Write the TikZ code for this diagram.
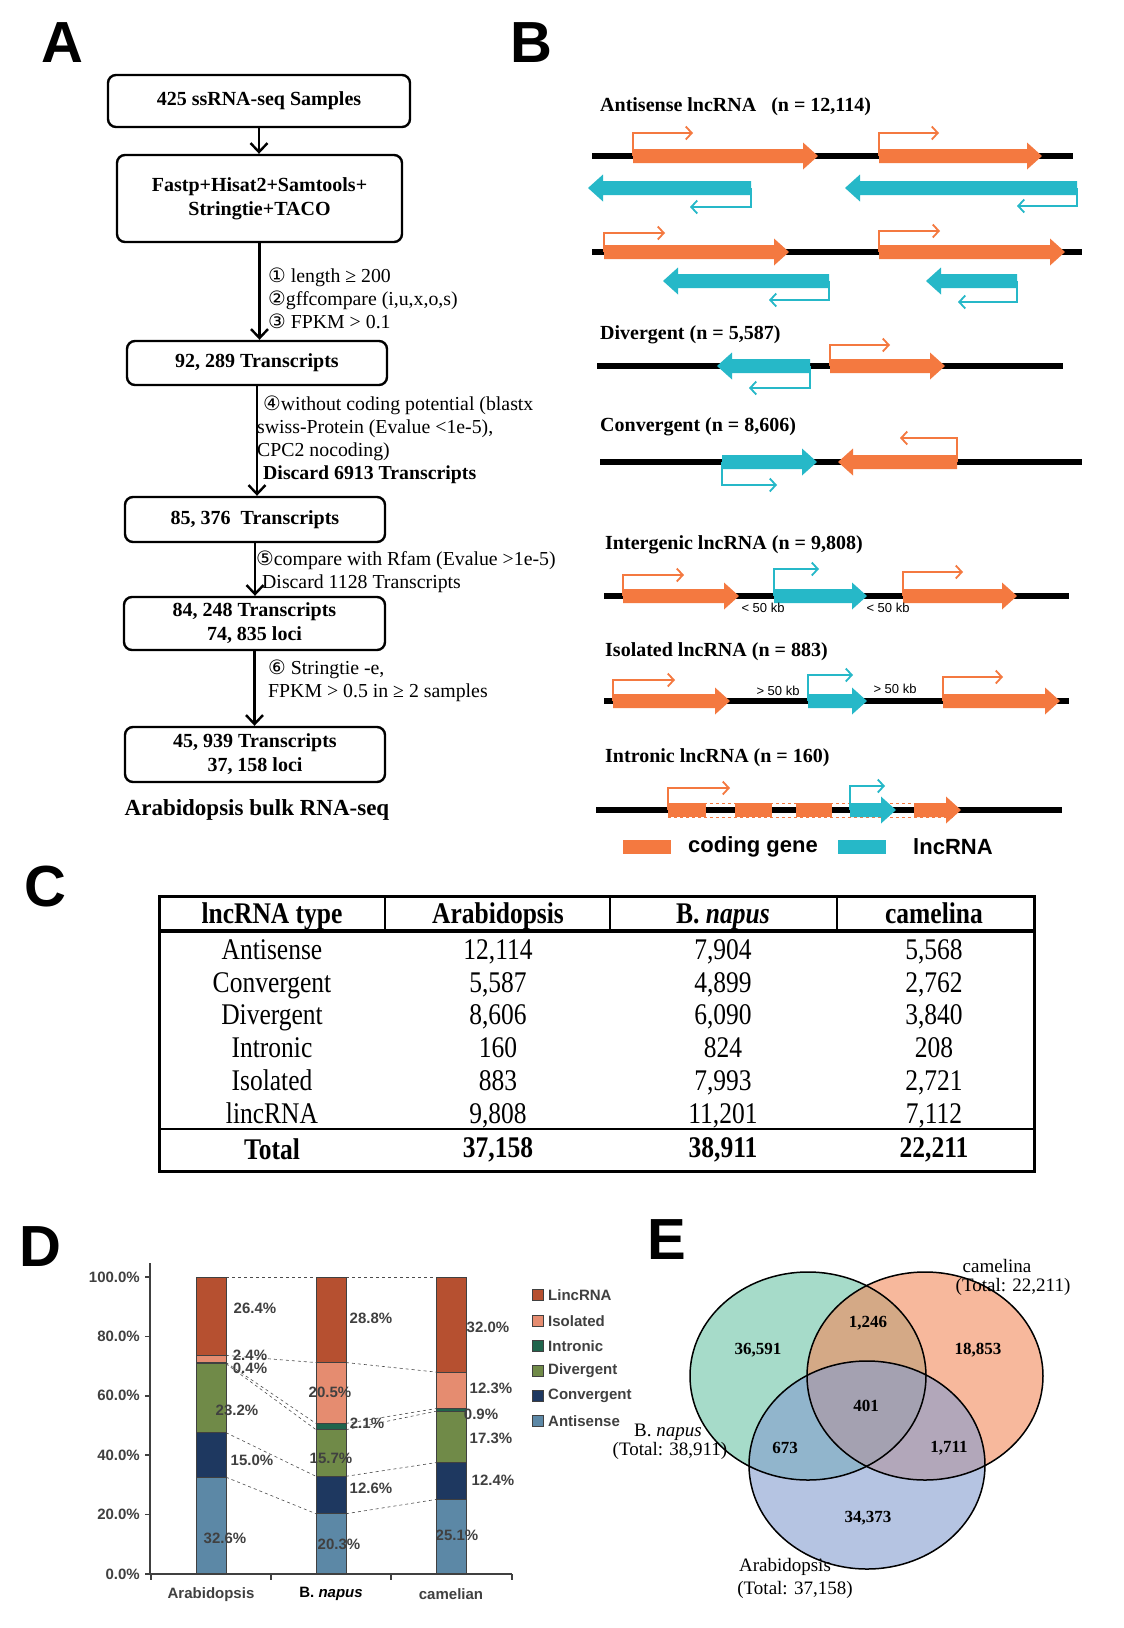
\documentclass[tikz,border=0pt]{standalone}
\usepackage{fontspec}
\setmainfont{Liberation Serif}
\setsansfont{Liberation Sans}
\newfontfamily\circfont{DejaVu Sans}
\newfontfamily\tabfont[FakeStretch=0.85]{Liberation Serif}
\usetikzlibrary{arrows.meta, positioning, calc}

\definecolor{codeorange}{RGB}{244,121,64}
\definecolor{lncblue}{RGB}{38,184,200}
\definecolor{linc}{RGB}{182,80,48}
\definecolor{isol}{RGB}{229,140,112}
\definecolor{intron}{RGB}{32,100,76}
\definecolor{diverg}{RGB}{112,138,72}
\definecolor{conv}{RGB}{30,56,96}
\definecolor{antis}{RGB}{92,136,166}
\definecolor{axisgray}{RGB}{64,64,64}
\definecolor{vgreen}{RGB}{107,195,165}
\definecolor{vorange}{RGB}{243,137,90}
\definecolor{vblue}{RGB}{132,157,207}

% gene body: tail x, tip x, y, colour
\newcommand{\genearrow}[4]{%
  \pgfmathsetmacro{\headx}{(#2>#1) ? #2-15 : #2+15}%
  \fill[#4] (#1,#3-7) -- (\headx,#3-7) -- (\headx,#3-13.5) -- (#2,#3)
    -- (\headx,#3+13.5) -- (\headx,#3+7) -- (#1,#3+7) -- cycle;}
% start site: x, y, level, end x, colour
\newcommand{\tssarrow}[5]{%
  \draw[tss, #5] (#1,#2) -- (#1,#3) -- (#4,#3);}

\tikzset{
  flowbox/.style={draw, rounded corners=8pt, line width=2.4pt, align=center,
    inner sep=0pt, font=\bfseries\fontsize{20}{24}\selectfont},
  flow/.style={line width=2.4pt, -{Straight Barb[length=9pt,width=17pt]}},
  flownote/.style={font=\fontsize{19.8}{23}\selectfont, align=left, anchor=west, inner sep=0pt},
  chrom/.style={line width=6pt},
  tss/.style={line width=1.8pt, -{Straight Barb[length=6pt,width=13pt]}},
  btitle/.style={font=\bfseries\fontsize{20}{23}\selectfont, anchor=west, inner sep=0pt},
  kb/.style={font=\sffamily\fontsize{13}{15}\selectfont, inner sep=0pt},
  panel/.style={font=\sffamily\bfseries\fontsize{58}{60}\selectfont, inner sep=0pt},
  cell/.style={font=\tabfont\fontsize{30}{32}\selectfont, inner sep=0pt, anchor=base},
  cellhead/.style={font=\tabfont\bfseries\fontsize{30}{32}\selectfont, inner sep=0pt, anchor=base},
  pct/.style={font=\sffamily\bfseries\fontsize{15}{17}\selectfont, text=axisgray, inner sep=0pt},
  seg/.style={draw=black!75, line width=1pt},
  axisline/.style={draw=axisgray, line width=1.5pt},
  vnum/.style={font=\bfseries\fontsize{17}{20}\selectfont, inner sep=0pt},
  vlab/.style={font=\fontsize{19}{22}\selectfont, inner sep=0pt},
  lgtext/.style={font=\sffamily\bfseries\fontsize{22}{24}\selectfont, anchor=west, inner sep=0pt}
}

\begin{document}
\begin{tikzpicture}[x=1pt, y=-1pt]
  \useasboundingbox (0,0) rectangle (1124,1628);
  \fill[white] (0,0) rectangle (1124,1628);

  % 1. Panel letters
  \node[panel] (lA) at (62,43) {A};
  \node[panel] (lB) at (531,43) {B};
  \node[panel] (lC) at (45,887) {C};
  \node[panel] (lD) at (40,1247) {D};
  \node[panel] (lE) at (667,1240) {E};

  % 2. Pipeline (panel A)
  \node[flowbox, minimum width=302pt, minimum height=52pt] (samples) at (259,101) {425 ssRNA-seq Samples};
  \node[flowbox, minimum width=285pt, minimum height=87pt] (tools) at (259.5,198.5) {Fastp+Hisat2+Samtools+\\Stringtie+TACO};
  \node[flowbox, minimum width=260pt, minimum height=44pt] (t92) at (257,363) {92, 289 Transcripts};
  \node[flowbox, minimum width=260pt, minimum height=45pt] (t85) at (255,519.5) {85, 376\ \ Transcripts};
  \node[flowbox, minimum width=261pt, minimum height=53pt] (t84) at (254.5,623.5) {84, 248 Transcripts\\74, 835 loci};
  \node[flowbox, minimum width=260pt, minimum height=55pt] (t45) at (255,754.5) {45, 939 Transcripts\\37, 158 loci};

  \draw[flow] (samples.south) -- (samples.south |- tools.north);
  \draw[flow] (tools.south) -- (tools.south |- t92.north);
  \draw[flow] (t92.south) -- (t92.south |- t85.north);
  \draw[flow] (t85.south) -- (t85.south |- t84.north);
  \draw[flow] (t84.south) -- (t84.south |- t45.north);

  % filter notes
  \node[flownote] (f1) at (268,298) {{\circfont ①} length ≥ 200\\{\circfont ②}gffcompare (i,u,x,o,s)\\{\circfont ③} FPKM > 0.1};
  \node[flownote] (f2) at (257,440) {\hspace*{6pt}{\circfont ④}without coding potential (blastx\\swiss-Protein (Evalue <1e-5),\\CPC2 nocoding)\\\hspace*{6pt}\textbf{Discard 6913 Transcripts}};
  \node[flownote] (f3) at (256,571.5) {{\circfont ⑤}compare with Rfam (Evalue >1e-5)\\\hspace*{6pt}Discard 1128 Transcripts};
  \node[flownote] (f4) at (268,680.5) {{\circfont ⑥} Stringtie -e,\\FPKM > 0.5 in ≥ 2 samples};
  \node[font=\bfseries\fontsize{23}{25}\selectfont, inner sep=0pt] (bulk) at (257,810) {Arabidopsis bulk RNA-seq};

  % 3. lncRNA classes (panel B)
  \node[btitle] (antitle) at (600,107) {Antisense lncRNA\ \ \ (n = 12,114)};
  \draw[chrom] (592,156) -- (1073,156);
  \tssarrow{633}{156}{133}{693}{codeorange}
  \tssarrow{879}{156}{133}{939}{codeorange}
  \genearrow{633}{818}{156}{codeorange}
  \genearrow{879}{1042}{156}{codeorange}
  \tssarrow{751}{188}{207}{690}{lncblue}
  \tssarrow{1077}{188}{206}{1017}{lncblue}
  \genearrow{751}{588}{188}{lncblue}
  \genearrow{1077}{845}{188}{lncblue}

  \draw[chrom] (592,252) -- (1082,252);
  \tssarrow{604}{252}{233}{665}{codeorange}
  \tssarrow{879}{252}{231}{940}{codeorange}
  \genearrow{604}{789}{252}{codeorange}
  \genearrow{879}{1065}{252}{codeorange}
  \tssarrow{829}{281}{300}{769}{lncblue}
  \tssarrow{1017}{281}{302}{958}{lncblue}
  \genearrow{829}{663}{281}{lncblue}
  \genearrow{1017}{926}{281}{lncblue}

  \node[btitle] (divtitle) at (600,335) {Divergent (n = 5,587)};
  \draw[chrom] (597,366) -- (1063,366);
  \tssarrow{810}{366}{388}{749}{lncblue}
  \tssarrow{830}{366}{345}{890}{codeorange}
  \genearrow{810}{717}{366}{lncblue}
  \genearrow{830}{945}{366}{codeorange}

  \node[btitle] (contitle) at (600,427) {Convergent (n = 8,606)};
  \draw[chrom] (600,462) -- (1082,462);
  \tssarrow{722}{462}{485}{777}{lncblue}
  \tssarrow{957}{462}{438}{900}{codeorange}
  \genearrow{722}{817}{462}{lncblue}
  \genearrow{957}{838}{462}{codeorange}

  \node[btitle] (intertitle) at (605,545) {Intergenic lncRNA (n = 9,808)};
  \draw[chrom] (604,596) -- (1069,596);
  \tssarrow{623}{596}{575}{684}{codeorange}
  \tssarrow{774}{596}{569}{819}{lncblue}
  \tssarrow{903}{596}{572}{963}{codeorange}
  \genearrow{623}{739}{596}{codeorange}
  \genearrow{774}{867}{596}{lncblue}
  \genearrow{903}{1017}{596}{codeorange}
  \node[kb] (kb1) at (763,608) {< 50 kb};
  \node[kb] (kb2) at (888,608) {< 50 kb};

  \node[btitle] (isotitle) at (605,652) {Isolated lncRNA (n = 883)};
  \draw[chrom] (604,701) -- (1069,701);
  \tssarrow{613}{701}{680}{675}{codeorange}
  \tssarrow{808}{701}{675}{853}{lncblue}
  \tssarrow{943}{701}{677}{1003}{codeorange}
  \genearrow{613}{730}{701}{codeorange}
  \genearrow{808}{867}{701}{lncblue}
  \genearrow{943}{1060}{701}{codeorange}
  \node[kb] (kb3) at (778,691) {> 50 kb};
  \node[kb] (kb4) at (895,689) {> 50 kb};

  \node[btitle] (intrtitle) at (605,758) {Intronic lncRNA (n = 160)};
  \draw[chrom] (596,810) -- (1062,810);
  \draw[codeorange, dashed, line width=1pt] (668,803) -- (955,803) (668,817) -- (955,817);
  \tssarrow{668}{810}{788}{730}{codeorange}
  \tssarrow{850}{810}{786}{885}{lncblue}
  \foreach \a/\b in {668/706, 735/772, 796/832}
    \fill[codeorange] (\a,803) rectangle (\b,817);
  \genearrow{850}{896}{810}{lncblue}
  \genearrow{914}{961}{810}{codeorange}

  % legend
  \fill[codeorange] (623,840) rectangle (671,854);
  \node[lgtext] (lgcode) at (688,847) {coding gene};
  \fill[lncblue] (838,840) rectangle (886,854);
  \node[lgtext] (lglnc) at (913,847) {lncRNA};

  % 4. Table (panel C)
  \draw[line width=3pt] (159,896) rectangle (1034,1171);
  \draw[line width=3.5pt] (159,931) -- (1034,931);
  \draw[line width=2pt] (159,1129) -- (1034,1129);
  \foreach \x in {385,610,837}
    \draw[line width=1.5pt] (\x,896) -- (\x,931);
  \foreach \x/\t [count=\i] in {272/lncRNA type, 498/Arabidopsis, 723/{B. \textit{napus}}, 934/camelina}
    \node[cellhead] (h\i) at (\x,923) {\t};
  \foreach \y/\k/\a/\b/\c [count=\i] in {
      959/Antisense/{12,114}/{7,904}/{5,568},
      992/Convergent/{5,587}/{4,899}/{2,762},
      1024/Divergent/{8,606}/{6,090}/{3,840},
      1057/Intronic/160/824/208,
      1090/Isolated/883/{7,993}/{2,721},
      1123/lincRNA/{9,808}/{11,201}/{7,112}} {
    \node[cell] (r\i k) at (272,\y) {\k};
    \node[cell] (r\i a) at (498,\y) {\a};
    \node[cell] (r\i b) at (723,\y) {\b};
    \node[cell] (r\i c) at (934,\y) {\c};
  }
  \node[cellhead] (totk) at (272,1159) {Total};
  \node[cellhead] (tota) at (498,1157) {37,158};
  \node[cellhead] (totb) at (723,1157) {38,911};
  \node[cellhead] (totc) at (934,1157) {22,211};

  % 5. Stacked bars (panel D)
  \begin{scope}[shift={(0pt,-1574pt)}, y=2.97pt]
    \foreach \a/\b/\c in {100/100/100, 73.6/71.2/68.0, 71.2/50.7/55.7,
                          70.8/48.6/54.8, 47.6/32.9/37.5, 32.6/20.3/25.1}
      \draw[dashed, line width=0.6pt, black!70] (226,\a) -- (316,\b) (346,\b) -- (436,\c);
    \foreach \lo/\hi/\c in {0/32.6/antis, 32.6/47.6/conv, 47.6/70.8/diverg,
                            70.8/71.2/intron, 71.2/73.6/isol, 73.6/100/linc}
      \filldraw[seg, fill=\c] (196,\lo) rectangle (226,\hi);
    \foreach \lo/\hi/\c in {0/20.3/antis, 20.3/32.9/conv, 32.9/48.6/diverg,
                            48.6/50.7/intron, 50.7/71.2/isol, 71.2/100/linc}
      \filldraw[seg, fill=\c] (316,\lo) rectangle (346,\hi);
    \foreach \lo/\hi/\c in {0/25.1/antis, 25.1/37.5/conv, 37.5/54.8/diverg,
                            54.8/55.7/intron, 55.7/68.0/isol, 68.0/100/linc}
      \filldraw[seg, fill=\c] (436,\lo) rectangle (466,\hi);
    \draw[axisline] (150,104.7) -- (150,0) -- (512,0);
    \foreach \v in {0,20,...,100} {
      \draw[axisline] (145,\v) -- (150,\v);
      \node[pct, anchor=east] (y\v) at (140,\v) {\v.0\%};
    }
    \foreach \x in {151,271,391,512}
      \draw[axisline] (\x,0) -- (\x,-2);
    \node[pct] (xa) at (211,-6.8) {Arabidopsis};
    \node[pct, text=black] (xb) at (331,-6.8) {B. \textit{napus}};
    \node[pct] (xc) at (451,-6.8) {camelian};
  \end{scope}
  \foreach \x/\y/\t [count=\i] in {255/1308/26.4, 250/1355/2.4, 250/1368/0.4, 237/1410/23.2,
      252/1460/15.0, 225/1538/32.6, 371/1318/28.8, 330/1392/20.5, 367/1423/2.1,
      331/1458/15.7, 371/1488/12.6, 339/1544/20.3, 488/1327/32.0, 491/1388/12.3,
      481/1414/0.9, 491/1438/17.3, 493/1480/12.4, 457/1535/25.1}
    \node[pct] (p\i) at (\x,\y) {\t\%};
  \foreach \c/\t/\y [count=\i] in {linc/LincRNA/1295, isol/Isolated/1321, intron/Intronic/1346,
      diverg/Divergent/1371, conv/Convergent/1396, antis/Antisense/1421} {
    \filldraw[seg, fill=\c] (532,\y-5.5) rectangle (543,\y+5.5);
    \node[pct, anchor=west] (lg\i) at (548,\y) {\t};
  }

  % 6. Venn (panel E)
  \fill[vgreen, fill opacity=0.6] (808,1376) ellipse [x radius=118pt, y radius=104pt];
  \fill[vorange, fill opacity=0.6] (925,1376) ellipse [x radius=118pt, y radius=104pt];
  \fill[vblue, fill opacity=0.6] (867,1465) ellipse [x radius=118pt, y radius=104pt];
  \draw[line width=1.5pt] (808,1376) ellipse [x radius=118pt, y radius=104pt];
  \draw[line width=1.5pt] (925,1376) ellipse [x radius=118pt, y radius=104pt];
  \draw[line width=1.5pt] (867,1465) ellipse [x radius=118pt, y radius=104pt];
  \foreach \x/\y/\t [count=\i] in {758/1350/{36,591}, 868/1323/{1,246}, 978/1350/{18,853},
      866/1406/401, 785/1448/673, 949/1448/{1,711}, 868/1518/{34,373}}
    \node[vnum] (v\i) at (\x,\y) {\t};
  \node[vlab] (camlab) at (997,1266) {camelina};
  \node[vlab] (camtot) at (1013,1287) {(Total: 22,211)};
  \node[vlab] (naplab) at (668,1432) {B. \textit{napus}};
  \node[vlab] (naptot) at (670,1451) {(Total: 38,911)};
  \node[vlab] (aralab) at (785,1567) {Arabidopsis};
  \node[vlab] (aratot) at (795,1590) {(Total: 37,158)};

\end{tikzpicture}
\end{document}
